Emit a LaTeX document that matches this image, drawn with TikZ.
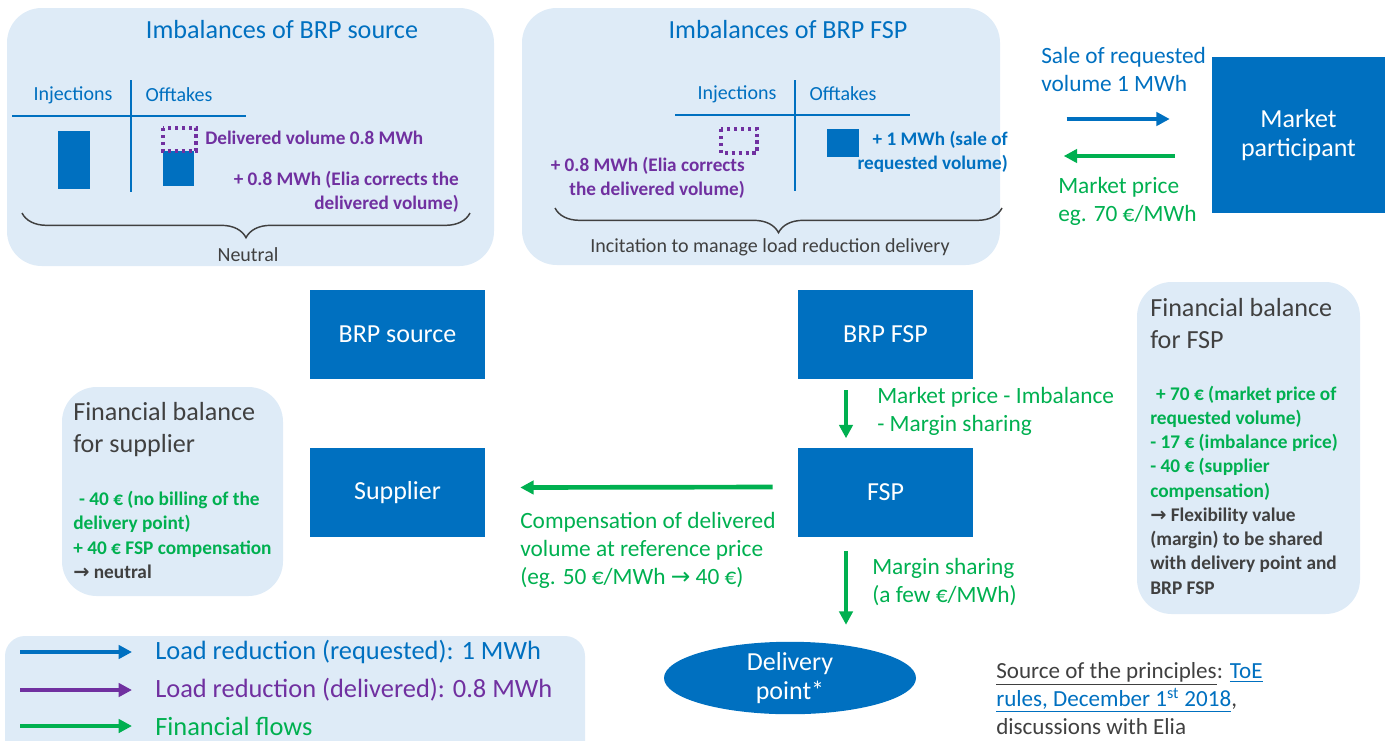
\documentclass[tikz,border=0pt]{standalone}
\usepackage{fontspec}
\setmainfont{Carlito}
\newfontfamily\symfont{DejaVu Sans}
\usetikzlibrary{arrows.meta,calc,shapes.geometric,decorations.pathreplacing}

\definecolor{eliablue}{HTML}{0070C0}
\definecolor{panelfill}{HTML}{DEEBF7}
\definecolor{flowgreen}{HTML}{00B050}
\definecolor{delpurple}{HTML}{7030A0}
\definecolor{darktext}{HTML}{404040}

\newcommand{\fsTitle}{\fontsize{19.6}{22}\selectfont}
\newcommand{\fsTable}{\fontsize{15}{17}\selectfont}
\newcommand{\fsNote}{\fontsize{14.4}{18}\selectfont\bfseries}
\newcommand{\fsFlow}{\fontsize{17.5}{21}\selectfont}
\newcommand{\fsBox}{\fontsize{19.5}{21.75}\selectfont}
\newcommand{\fsBalTitle}{\fontsize{19.6}{24}\selectfont}
\newcommand{\fsBal}{\fontsize{14.5}{18.2}\selectfont\bfseries}
\newcommand{\fsLegend}{\fontsize{19.8}{21}\selectfont}
\newcommand{\fsSource}{\fontsize{17.3}{21}\selectfont}
\newcommand{\rarr}{{\symfont →}}

\tikzset{
	panelbg/.style={fill=panelfill, rounded corners=26pt},
	actorbox/.style={fill=eliablue, text=white, inner sep=0pt, align=center, minimum width=131.25pt, minimum height=66.75pt, font=\fsBox},
	txt/.style={inner sep=0pt, align=left},
	tableline/.style={draw=eliablue, line width=1.5pt},
	delivbox/.style={draw=delpurple, line width=2.6pt, dash pattern=on 2.4pt off 2.8pt},
	flowarrow/.style={line width=3.5pt, -{Triangle[length=10pt,width=10pt]}},
	bracket/.style={draw=darktext, line width=1.1pt, decorate, decoration={brace, mirror, amplitude=18.5pt}}
}

\begin{document}
\begin{tikzpicture}[x=0.75pt,y=-0.75pt]
		\clip (0,0) rectangle (1391,740);
		% light panels
		\fill[panelbg] (7,8) rectangle (494,266);
		\fill[panelbg] (522,8) rectangle (1000,265);
		\fill[panelbg] (62,387) rectangle (283,596);
		\fill[panelbg] (1137,282) rectangle (1360,614);
		\fill[panelbg, rounded corners=15pt] (5,636) rectangle (585,770);

		% imbalances of BRP source
		\node[txt, text=eliablue, font=\fsTitle] (srctitle) at (282,30) {Imbalances of BRP source};
		\node[txt, text=eliablue, font=\fsTable] (srcinj) at (73,95) {Injections};
		\node[txt, text=eliablue, font=\fsTable] (srcoff) at (179,95) {Offtakes};
		\draw[tableline] (12,116) -- (246,116);
		\draw[tableline] (131,80) -- (131,192);
		\fill[eliablue] (58,131) rectangle (90,189);
		\fill[eliablue] (163,151) rectangle (194,186);
		\draw[delivbox] (163,128) rectangle (196,151);
		\node[txt, text=delpurple, font=\fsNote, anchor=west] (srcdel) at (205,138) {Delivered volume 0.8 MWh};
		\node[txt, text=delpurple, font=\fsNote, anchor=east, align=right] (srccorr) at (459,191.5) {+ 0.8 MWh (Elia corrects the\\delivered volume)};
		\draw[bracket] (22,213) -- (470,213);
		\node[txt, text=darktext, font=\fsTable] (srcneutral) at (248,255) {Neutral};

		% imbalances of BRP FSP
		\node[txt, text=eliablue, font=\fsTitle] (fsptitle) at (788,30) {Imbalances of BRP FSP};
		\node[txt, text=eliablue, font=\fsTable] (fspinj) at (737,94) {Injections};
		\node[txt, text=eliablue, font=\fsTable] (fspoff) at (843,94) {Offtakes};
		\draw[tableline] (675,115) -- (910,115);
		\draw[tableline] (795,80) -- (795,191);
		\draw[delivbox] (721,129) rectangle (757,153);
		\fill[eliablue] (827,129) rectangle (859,157);
		\node[txt, text=delpurple, font=\fsNote, anchor=east, align=right] (fspcorr) at (745,178) {+ 0.8 MWh (Elia corrects\\the delivered volume)};
		\node[txt, text=eliablue, font=\fsNote, anchor=east, align=right] (fspsale) at (1008,152) {+ 1 MWh (sale of\\requested volume)};
		\draw[bracket] (555,208) -- (1002,208);
		\node[txt, text=darktext, font=\fsTable] (fspincit) at (770,247) {Incitation to manage load reduction delivery};

		% actors
		\node[actorbox, minimum width=129.75pt, minimum height=117pt] (market) at (1298.5,135) {Market\\participant};
		\node[actorbox] (brpsource) at (397.5,334.5) {BRP source};
		\node[actorbox] (brpfsp) at (885.5,334.5) {BRP FSP};
		\node[actorbox] (supplier) at (397.5,492.5) {Supplier};
		\node[actorbox] (fsp) at (885.5,492) {FSP};
		\node[ellipse, fill=eliablue, text=white, inner sep=0pt, minimum width=189pt, minimum height=54pt, align=center, font=\fsBox] (delivery) at (790,678) {Delivery\\point*};

		% flows
		\draw[flowarrow, draw=eliablue] ($(market.west)+(-145,-16)$) -- ($(market.west)+(-42,-16)$);
		\draw[flowarrow, draw=flowgreen] ($(market.west)+(-37,21)$) -- ($(market.west)+(-148,21)$);
		\node[txt, text=eliablue, font=\fsFlow, anchor=west] (salelbl) at (1041,69) {Sale of requested\\volume 1 MWh};
		\node[txt, text=flowgreen, font=\fsFlow, anchor=west] (pricelbl) at (1058,201) {Market price\\eg. 70 €/MWh};
		\draw[flowarrow, draw=flowgreen] ($(brpfsp.south)+(-39.5,11)$) -- ($(fsp.north)+(-39.5,-9)$);
		\node[txt, text=flowgreen, font=\fsFlow, anchor=west] (imblbl) at (877,411) {Market price - Imbalance\\- Margin sharing};
		\draw[flowarrow, draw=flowgreen] ($(fsp.west)+(-25,-5)$) -- ($(supplier.east)+(35,-5)$);
		\node[txt, text=flowgreen, font=\fsFlow, anchor=west] (complbl) at (520,550) {Compensation of delivered\\volume at reference price\\(eg. 50 €/MWh \rarr{} 40 €)};
		\draw[flowarrow, draw=flowgreen] ($(fsp.south)+(-39.5,14)$) -- ($(fsp.south)+(-39.5,88)$);
		\node[txt, text=flowgreen, font=\fsFlow, anchor=west] (marginlbl) at (872,582) {Margin sharing\\(a few €/MWh)};

		% financial balances
		\node[txt, text=darktext, font=\fsBalTitle, anchor=west] (suptitle) at (73,430) {Financial balance\\for supplier};
		\node[txt, text=flowgreen, font=\fsBal, anchor=west] (supbody) at (73,535) {\hspace{0.3em}- 40 € (no billing of the\\delivery point)\\+ 40 € FSP compensation\\{\color{darktext}\rarr{} neutral}};
		\node[txt, text=darktext, font=\fsBalTitle, anchor=west] (fsptitle2) at (1150,324) {Financial balance\\for FSP};
		\node[txt, text=flowgreen, font=\fsBal, anchor=west] (fspbody) at (1150,490) {\hspace{0.3em}+ 70 € (market price of\\requested volume)\\- 17 € (imbalance price)\\- 40 € (supplier\\compensation)\\{\color{darktext}\rarr{} Flexibility value}\\{\color{darktext}(margin) to be shared}\\{\color{darktext}with delivery point and}\\{\color{darktext}BRP FSP}};

		% legend
		\coordinate (lega) at (20,652);
		\coordinate (legb) at (132,652);
		\coordinate (legc) at (20,690);
		\coordinate (legd) at (132,690);
		\coordinate (lege) at (20,726);
		\coordinate (legf) at (132,726);
		\draw[flowarrow, draw=eliablue] (lega) -- (legb);
		\draw[flowarrow, draw=delpurple] (legc) -- (legd);
		\draw[flowarrow, draw=flowgreen] (lege) -- (legf);
		\node[txt, text=eliablue, font=\fsLegend, anchor=west] (legreq) at (155,652) {Load reduction (requested): 1 MWh};
		\node[txt, text=delpurple, font=\fsLegend, anchor=west] (legdel) at (155,690) {Load reduction (delivered): 0.8 MWh};
		\node[txt, text=flowgreen, font=\fsLegend, anchor=west] (legfin) at (155,726) {Financial flows};

		% source
		\node[txt, text=darktext, font=\fsSource, anchor=west] (source) at (996,699) {\underline{Source of the principles}: {\color{eliablue}\underline{ToE}}\\{\color{eliablue}\underline{rules, December 1\textsuperscript{st} 2018}},\\discussions with Elia};
	\end{tikzpicture}
\end{document}
